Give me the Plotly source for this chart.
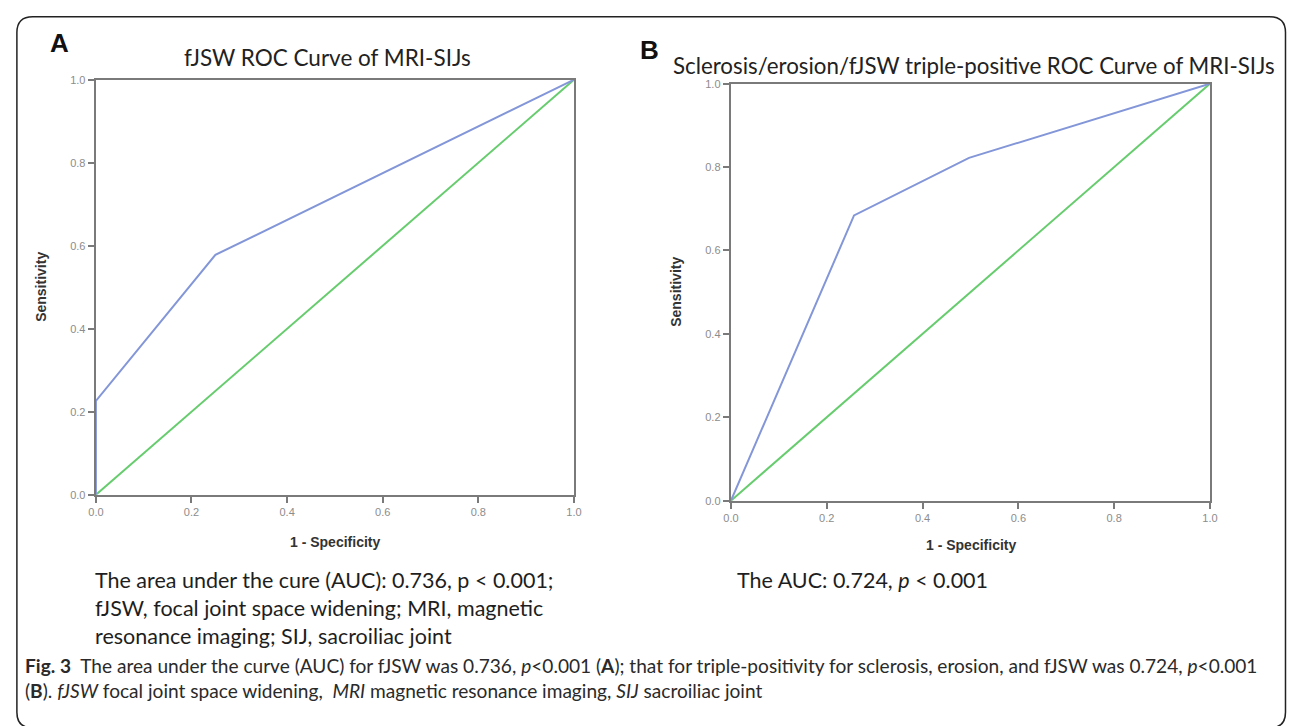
import plotly.graph_objects as go

W, H = 1293, 726

# ---- data ----
fpr_a = [0.0, 0.0, 0.25, 1.0]
tpr_a = [0.0, 0.226, 0.578, 1.0]
fpr_b = [0.0, 0.257, 0.497, 1.0]
tpr_b = [0.0, 0.684, 0.822, 1.0]
ref_x = [0.0, 1.0]
ref_y = [0.0, 1.0]
tick_vals = [0.0, 0.2, 0.4, 0.6, 0.8, 1.0]
tick_text = ["0.0", "0.2", "0.4", "0.6", "0.8", "1.0"]


def px(x):
    return x / W


def py(y):
    return 1 - y / H


ROC = "#8396d8"
REF = "#66cc6e"
AXC = "#7a7a7a"

fig = go.Figure()
for xa, ya, fx, fy in [("x", "y", fpr_a, tpr_a), ("x2", "y2", fpr_b, tpr_b)]:
    fig.add_trace(go.Scatter(x=ref_x, y=ref_y, mode="lines", line=dict(color=REF, width=2),
                             xaxis=xa, yaxis=ya, showlegend=False, hoverinfo="skip"))
    fig.add_trace(go.Scatter(x=fx, y=fy, mode="lines", line=dict(color=ROC, width=2),
                             xaxis=xa, yaxis=ya, showlegend=False, hoverinfo="skip"))

axis_common = dict(range=[0, 1], tickvals=tick_vals, ticktext=tick_text, showgrid=False,
                   zeroline=False, showline=True, linecolor=AXC, linewidth=2.4, mirror=True,
                   ticks="outside", ticklen=6, tickwidth=1.5, tickcolor=AXC,
                   tickfont=dict(family="Arial", size=11, color="#8c8c8c"), fixedrange=True)

fig.update_layout(
    width=W, height=H, margin=dict(l=0, r=0, t=0, b=0),
    paper_bgcolor="white", plot_bgcolor="white",
    xaxis=dict(domain=[px(89), px(573)], anchor="y", **axis_common),
    yaxis=dict(domain=[py(497), py(75)], anchor="x", **axis_common),
    xaxis2=dict(domain=[px(732), px(1217)], anchor="y2", **axis_common),
    yaxis2=dict(domain=[py(503), py(79)], anchor="x2", **axis_common),
)

# rounded frame
x0, y0, x1, y1, r = 9, 11, 1293.5, 734, 16
path = (f"M {px(x0)},{py(y0 + r)} Q {px(x0)},{py(y0)} {px(x0 + r)},{py(y0)} "
        f"L {px(x1 - r)},{py(y0)} Q {px(x1)},{py(y0)} {px(x1)},{py(y0 + r)} "
        f"L {px(x1)},{py(y1 - r)} Q {px(x1)},{py(y1)} {px(x1 - r)},{py(y1)} "
        f"L {px(x0 + r)},{py(y1)} Q {px(x0)},{py(y1)} {px(x0)},{py(y1 - r)} Z")
fig.add_shape(type="path", path=path, xref="paper", yref="paper",
              line=dict(color="#222222", width=1.5), layer="above")

TF = "Lato"
anns = [
    dict(x=px(52), y=py(38), text="<b>A</b>", font=dict(family="Arial", size=26, color="#111")),
    dict(x=px(650), y=py(45), text="<b>B</b>", font=dict(family="Arial", size=26, color="#111")),
    dict(x=px(324), y=py(52), text="fJSW ROC Curve of MRI-SIJs", font=dict(family=TF, size=22.5, color="#222")),
    dict(x=px(978), y=py(61), text="Sclerosis/erosion/fJSW triple-positive ROC Curve of MRI-SIJs",
         font=dict(family=TF, size=22.3, color="#222")),
    dict(x=px(34), y=py(286), text="<b>Sensitivity</b>", textangle=-90,
         font=dict(family="Arial", size=14, color="#333")),
    dict(x=px(677), y=py(291), text="<b>Sensitivity</b>", textangle=-90,
         font=dict(family="Arial", size=14, color="#333")),
    dict(x=px(331), y=py(545), text="<b>1 - Specificity</b>", font=dict(family="Arial", size=14, color="#333")),
    dict(x=px(975), y=py(548), text="<b>1 - Specificity</b>", font=dict(family="Arial", size=14, color="#333")),
]
for a in anns:
    a.update(xref="paper", yref="paper", showarrow=False, xanchor="center", yanchor="middle")
    fig.add_annotation(**a)

auc_a_lines = ["The area under the cure (AUC): 0.736, p &lt; 0.001;",
               "fJSW, focal joint space widening; MRI, magnetic",
               "resonance imaging; SIJ, sacroiliac joint"]
fig.add_annotation(x=px(86), y=py(612), text="<br>".join(auc_a_lines), align="left",
                   xref="paper", yref="paper", showarrow=False, xanchor="left", yanchor="middle",
                   font=dict(family=TF, size=21.5, color="#1e1e1e"))
fig.add_annotation(x=px(736), y=py(584), text="The AUC: 0.724, <i>p</i> &lt; 0.001",
                   xref="paper", yref="paper", showarrow=False, xanchor="left", yanchor="middle",
                   font=dict(family=TF, size=21.5, color="#1e1e1e"))

caption_lines = [
    "<b>Fig. 3</b>  The area under the curve (AUC) for fJSW was 0.736, <i>p</i>&lt;0.001 (<b>A</b>); "
    "that for triple-positivity for sclerosis, erosion, and fJSW was 0.724, <i>p</i>&lt;0.001",
    "(<b>B</b>). <i>fJSW</i> focal joint space widening,  <i>MRI</i> magnetic resonance imaging, "
    "<i>SIJ</i> sacroiliac joint",
]
fig.add_annotation(x=px(15), y=py(683), text="<br>".join(caption_lines), align="left",
                   xref="paper", yref="paper", showarrow=False, xanchor="left", yanchor="middle",
                   font=dict(family="Lato", size=19.1, color="#2a2a2a"))

fig.write_html("out.html", config={"displayModeBar": False},
               post_script="document.body.style.margin='0';document.body.style.overflow='hidden';")
